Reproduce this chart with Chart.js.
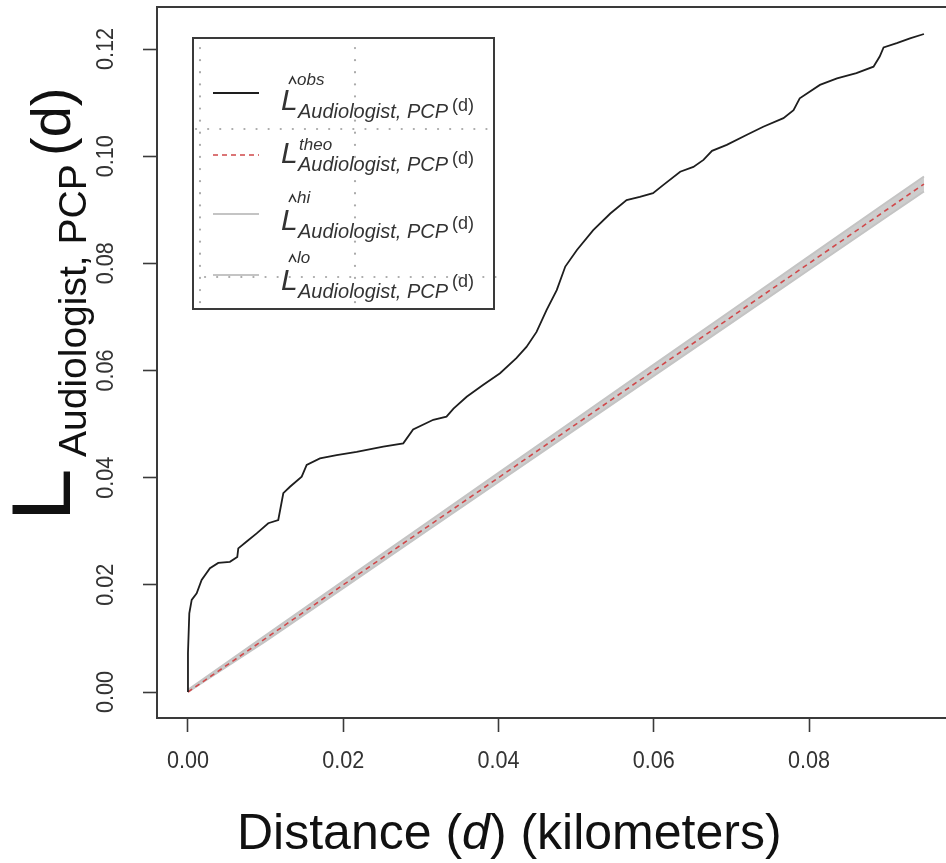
<!DOCTYPE html>
<html>
<head>
<meta charset="utf-8">
<script src="https://cdn.jsdelivr.net/npm/chart.js@4.4.1/dist/chart.umd.min.js"></script>
<style>
  html, body { margin: 0; padding: 0; background: #fff; }
  #wrap { width: 946px; height: 863px; }
</style>
</head>
<body>
<div id="wrap"><canvas id="kplot" width="946" height="863"></canvas></div>
<script>
const obsD = [0, 0, 0.00017, 0.00048, 0.00112, 0.00176, 0.00283, 0.0039, 0.0054, 0.00635, 0.00648, 0.00756, 0.00885, 0.01034, 0.01163, 0.01228, 0.01314, 0.01465, 0.01529, 0.017, 0.01915, 0.02173, 0.02516, 0.02773, 0.0290, 0.0316, 0.0333, 0.0342, 0.0359, 0.0380, 0.0402, 0.0423, 0.0436, 0.0449, 0.0462, 0.0475, 0.0486, 0.0501, 0.0522, 0.0544, 0.0565, 0.0582, 0.0599, 0.0612, 0.0634, 0.0651, 0.0664, 0.0675, 0.0694, 0.0720, 0.0741, 0.0767, 0.0780, 0.0788, 0.0814, 0.0836, 0.0861, 0.0883, 0.0891, 0.0896, 0.0913, 0.0930, 0.0948];
const obsL = [0, 0.0073, 0.0147, 0.0172, 0.0184, 0.0209, 0.0231, 0.0241, 0.0243, 0.0252, 0.0268, 0.0281, 0.0296, 0.0315, 0.0321, 0.0371, 0.0383, 0.0402, 0.0424, 0.0436, 0.0442, 0.0448, 0.0458, 0.0464, 0.0490, 0.0508, 0.0514, 0.0529, 0.0551, 0.0573, 0.0595, 0.0623, 0.0644, 0.0672, 0.0713, 0.0750, 0.0794, 0.0825, 0.0862, 0.0893, 0.0918, 0.0924, 0.0931, 0.0946, 0.0971, 0.0980, 0.0993, 0.1010, 0.1021, 0.1040, 0.1055, 0.1071, 0.1086, 0.1108, 0.1133, 0.1145, 0.1155, 0.1167, 0.1186, 0.1203, 0.1211, 0.1220, 0.1228];

// theoretical line and envelope
const envD = [0, 0.01, 0.02, 0.03, 0.04, 0.05, 0.06, 0.07, 0.08, 0.09, 0.0948];
const theoL = [0, 0.01, 0.02, 0.03, 0.04, 0.05, 0.06, 0.07, 0.08, 0.09, 0.0948];
const hiL = [0.0004, 0.0106, 0.0207, 0.0308, 0.0409, 0.0510, 0.0611, 0.0712, 0.0813, 0.0914, 0.0962];
const loL = [0, 0.0095, 0.0194, 0.0293, 0.0392, 0.0491, 0.0590, 0.0689, 0.0788, 0.0887, 0.0934];

const xTicks = [0, 0.02, 0.04, 0.06, 0.08];
const xTickLabels = ["0.00", "0.02", "0.04", "0.06", "0.08"];
const yTicks = [0, 0.02, 0.04, 0.06, 0.08, 0.10, 0.12];
const yTickLabels = ["0.00", "0.02", "0.04", "0.06", "0.08", "0.10", "0.12"];

const legendSup = ["obs", "theo", "hi", "lo"];
const legendHat = [true, false, true, true];

const pts = (xs, ys) => xs.map((x, i) => ({ x: x, y: ys[i] }));
const FONT = '"Liberation Sans", Arial, sans-serif';
const ink = "#333";

const decor = {
  id: "decor",
  afterDraw(chart) {
    const ctx = chart.ctx;
    const a = chart.chartArea;
    const xs = chart.scales.x, ys = chart.scales.y;
    ctx.save();

    // frame
    ctx.strokeStyle = "#3a3a3a";
    ctx.lineWidth = 2;
    ctx.strokeRect(a.left, a.top, a.right - a.left + 4, a.bottom - a.top);

    // tick labels
    ctx.fillStyle = ink;
    ctx.font = "24px " + FONT;
    ctx.textBaseline = "middle";
    ctx.textAlign = "center";
    xTicks.forEach((v, i) => {
      ctx.save();
      ctx.translate(xs.getPixelForValue(v), 761);
      ctx.scale(0.9, 1);
      ctx.fillText(xTickLabels[i], 0, 0);
      ctx.restore();
    });
    yTicks.forEach((v, i) => {
      ctx.save();
      ctx.translate(106, ys.getPixelForValue(v));
      ctx.rotate(-Math.PI / 2);
      ctx.scale(0.9, 1);
      ctx.fillText(yTickLabels[i], 0, 0);
      ctx.restore();
    });

    // x title
    ctx.textAlign = "left";
    ctx.textBaseline = "alphabetic";
    ctx.fillStyle = "#111";
    let x = 237;
    const base = 849;
    const parts = [["Distance (", "50px "], ["d", "italic 50px "], [") (kilometers)", "50px "]];
    parts.forEach(p => {
      ctx.font = p[1] + FONT;
      ctx.fillText(p[0], x, base);
      x += ctx.measureText(p[0]).width;
    });

    // y title, rotated
    ctx.save();
    ctx.rotate(-Math.PI / 2);
    ctx.save();
    ctx.translate(-522, 70);
    ctx.scale(1.15, 1);
    ctx.font = "84px " + FONT;
    ctx.fillText("L", 0, 0);
    ctx.restore();
    ctx.font = "39px " + FONT;
    ctx.fillText("Audiologist, PCP", -457, 86);
    ctx.font = "56px " + FONT;
    ctx.fillText("(d)", -156, 70);
    ctx.restore();

    // legend box
    const L = { l: 193, t: 38, r: 494, b: 309 };
    ctx.fillStyle = "#fff";
    ctx.fillRect(L.l, L.t, L.r - L.l, L.b - L.t);

    // dotted guide lines inside legend
    ctx.strokeStyle = "#aaa";
    ctx.lineWidth = 2.2;
    ctx.lineCap = "round";
    ctx.setLineDash([0.1, 12]);
    ctx.beginPath();
    ctx.moveTo(200, 48); ctx.lineTo(200, 308);
    ctx.moveTo(355, 48); ctx.lineTo(355, 314);
    ctx.moveTo(196, 129); ctx.lineTo(498, 129);
    ctx.moveTo(205, 277); ctx.lineTo(498, 277);
    ctx.stroke();
    ctx.setLineDash([]);
    ctx.lineCap = "butt";

    ctx.strokeStyle = "#3a3a3a";
    ctx.lineWidth = 2;
    ctx.strokeRect(L.l, L.t, L.r - L.l, L.b - L.t);

    const rows = [
      { line: 93, Lb: 110, sup: 85, sub: 118, d: 111 },
      { line: 155, Lb: 163, sup: 150, sub: 171, d: 164 },
      { line: 214, Lb: 230, sup: 203, sub: 238, d: 229 },
      { line: 275, Lb: 290, sup: 263, sub: 298, d: 287 }
    ];
    rows.forEach((r, i) => {
      const ds = chart.data.datasets[i];
      ctx.strokeStyle = ds.borderColor;
      ctx.lineWidth = ds.borderWidth;
      ctx.setLineDash(ds.borderDash || []);
      ctx.beginPath();
      ctx.moveTo(213, r.line);
      ctx.lineTo(259, r.line);
      ctx.stroke();
      ctx.setLineDash([]);

      ctx.fillStyle = ink;
      ctx.font = "italic 30px " + FONT;
      ctx.fillText("L", 281, r.Lb);
      if (legendHat[i]) {
        ctx.strokeStyle = ink;
        ctx.lineWidth = 1.6;
        ctx.beginPath();
        ctx.moveTo(289, r.sup - 1);
        ctx.lineTo(292.5, r.sup - 8);
        ctx.lineTo(296, r.sup - 1);
        ctx.stroke();
      }
      ctx.font = "italic 17px " + FONT;
      ctx.fillText(legendSup[i], legendHat[i] ? 297 : 299, r.sup);
      ctx.font = "italic 20px " + FONT;
      ctx.fillText("Audiologist, PCP", 298, r.sub);
      ctx.font = "18px " + FONT;
      ctx.fillText("(d)", 452, r.d);
    });

    ctx.restore();
  }
};

new Chart(document.getElementById("kplot"), {
  type: "line",
  data: {
    datasets: [
      { label: "obs", data: pts(obsD, obsL), borderColor: "#1e1e1e", borderWidth: 1.8, pointRadius: 0, tension: 0, fill: false, order: 0 },
      { label: "theo", data: pts(envD, theoL), borderColor: "#d0484a", borderWidth: 1.6, borderDash: [5, 4], pointRadius: 0, tension: 0, fill: false, order: 1 },
      { label: "hi", data: pts(envD, hiL), borderColor: "#c4c4c4", borderWidth: 2, pointRadius: 0, tension: 0, fill: false, order: 2 },
      { label: "lo", data: pts(envD, loL), borderColor: "#c4c4c4", borderWidth: 2, pointRadius: 0, tension: 0, fill: "-1", backgroundColor: "#cdcdcd", order: 3 }
    ]
  },
  options: {
    responsive: false,
    animation: false,
    layout: { padding: { top: 7, right: 0, left: 0, bottom: 0 } },
    plugins: { legend: { display: false }, tooltip: { enabled: false } },
    scales: {
      x: {
        type: "linear",
        min: -0.00399,
        max: 0.09764,
        afterBuildTicks: s => { s.ticks = xTicks.map(v => ({ value: v })); },
        afterFit: s => { s.height = 145; },
        ticks: { display: false },
        grid: { drawOnChartArea: false, drawTicks: true, tickLength: 14, tickWidth: 1.6, tickColor: "#3a3a3a" },
        border: { display: false }
      },
      y: {
        type: "linear",
        min: -0.00485,
        max: 0.12784,
        afterBuildTicks: s => { s.ticks = yTicks.map(v => ({ value: v })); },
        afterFit: s => { s.width = 157; },
        ticks: { display: false },
        grid: { drawOnChartArea: false, drawTicks: true, tickLength: 14, tickWidth: 1.6, tickColor: "#3a3a3a" },
        border: { display: false }
      }
    }
  },
  plugins: [decor]
});
</script>
</body>
</html>
